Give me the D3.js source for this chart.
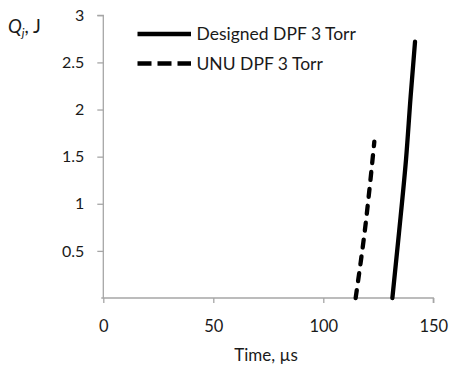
<!DOCTYPE html>
<html>
<head>
<meta charset="utf-8">
<script src="https://cdn.jsdelivr.net/npm/d3@7"></script>
<style>
  html, body { margin: 0; padding: 0; background: #fff; }
  svg { display: block; font-family: Lato, "Open Sans", sans-serif; }
</style>
</head>
<body>
<svg id="chart" width="451" height="367"></svg>
<script>
// Energy Q_j versus time for two dense plasma focus devices
const designedTime = [131.4, 134.4, 137.6, 139.7, 141.7];
const designedQ    = [0,     0.69,  1.47,  2.14,  2.72];
const unuTime      = [114.7, 117.0, 118.9, 121.1, 123.2];
const unuQ         = [0,     0.38,  0.72,  1.18,  1.66];

const xTicks = [0, 50, 100, 150];
const yTicks = [0.5, 1, 1.5, 2, 2.5, 3];

const seriesNames = ["Designed DPF 3 Torr", "UNU DPF 3 Torr"];

const svg = d3.select("#chart");

const x = d3.scaleLinear().domain([0, 150]).range([103.3, 433.3]);
const y = d3.scaleLinear().domain([0, 3]).range([298, 15.3]);

const axisColor = "#a6a6a6";
const textColor = "#1a1a1a";
const fontStack = "Lato, 'Open Sans', sans-serif";

// y axis
const yAxis = svg.append("g")
  .attr("transform", `translate(${x(0)},0)`)
  .call(d3.axisLeft(y).tickValues(yTicks).tickSize(6).tickPadding(13)
        .tickFormat(d3.format("~g")));
yAxis.select(".domain").attr("stroke", axisColor).attr("stroke-width", 1.3)
  .attr("d", `M0,${y(0)}V${y(3)}H-6`);
yAxis.selectAll(".tick line").attr("stroke", axisColor).attr("stroke-width", 1.3);
yAxis.selectAll(".tick text").attr("fill", textColor).style("font-size", "16px")
  .style("font-family", fontStack);

// x axis
const xAxis = svg.append("g")
  .attr("transform", `translate(0,${y(0)})`)
  .call(d3.axisBottom(x).tickValues(xTicks).tickSize(5).tickPadding(17)
        .tickFormat(d3.format("d")));
xAxis.select(".domain").attr("stroke", axisColor).attr("stroke-width", 1.3)
  .attr("d", `M${x(0) - 2},0H${x(150)}V5`);
xAxis.selectAll(".tick line").attr("stroke", axisColor).attr("stroke-width", 1.3);
xAxis.selectAll(".tick text").attr("fill", textColor).style("font-size", "16.5px")
  .style("font-family", fontStack);

// axis titles
svg.append("text")
  .attr("x", 266).attr("y", 361)
  .attr("text-anchor", "middle")
  .attr("fill", textColor)
  .style("font-size", "17px")
  .text("Time, \u00b5s");

const yTitle = svg.append("text")
  .attr("x", 8).attr("y", 33)
  .attr("fill", textColor)
  .style("font-size", "18.5px");
yTitle.append("tspan").attr("font-style", "italic").text("Q");
yTitle.append("tspan").attr("font-style", "italic").attr("dy", 4)
  .style("font-size", "12px").text("j");
yTitle.append("tspan").attr("dy", -4).text(", J");

// curves
const line = d3.line().x(d => x(d[0])).y(d => y(d[1])).curve(d3.curveMonotoneY);

const designed = designedTime.map((t, i) => [t, designedQ[i]]);
const unu = unuTime.map((t, i) => [t, unuQ[i]]);

svg.append("path").datum(designed)
  .attr("d", line)
  .attr("fill", "none").attr("stroke", "#000")
  .attr("stroke-width", 4.3).attr("stroke-linecap", "round");

svg.append("path").datum(unu)
  .attr("d", line)
  .attr("fill", "none").attr("stroke", "#000")
  .attr("stroke-width", 4.3).attr("stroke-linecap", "round")
  .attr("stroke-dasharray", "8,9");

// legend
const legend = svg.append("g");
const legendRows = [
  { name: seriesNames[0], dash: null, yy: 34 },
  { name: seriesNames[1], dash: "14,6", yy: 63.5 }
];
legendRows.forEach(r => {
  legend.append("line")
    .attr("x1", 137.5).attr("x2", 191).attr("y1", r.yy).attr("y2", r.yy)
    .attr("stroke", "#000").attr("stroke-width", 4.3)
    .attr("stroke-dasharray", r.dash);
  legend.append("text")
    .attr("x", 196.5).attr("y", r.yy + 6)
    .attr("fill", textColor)
    .style("font-size", "17.5px")
    .text(r.name);
});
</script>
</body>
</html>
